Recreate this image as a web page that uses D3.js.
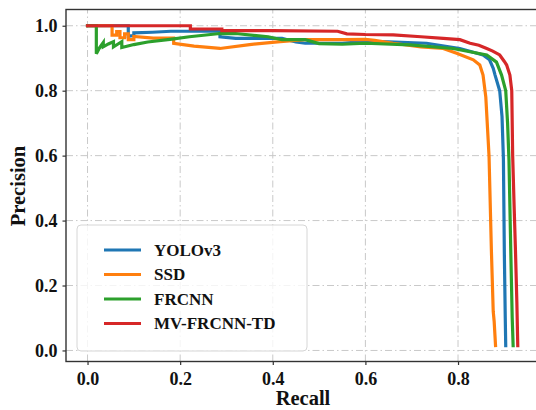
<!DOCTYPE html>
<html>
<head>
<meta charset="utf-8">
<script src="https://cdn.jsdelivr.net/npm/d3@7"></script>
<style>
  html, body { margin: 0; padding: 0; background: #fff; }
  svg { display: block; }
</style>
</head>
<body>
<svg width="536" height="410"></svg>
<script>
// precision-recall points, [recall, precision]
const yolov3 = [
  [0, 1.0], [0.088, 1.0], [0.088, 0.968], [0.1, 0.97], [0.1, 0.978], [0.14, 0.98],
  [0.18, 0.983], [0.286, 0.983], [0.286, 0.966], [0.32, 0.961], [0.42, 0.961], [0.45, 0.95],
  [0.47, 0.946], [0.55, 0.946], [0.6, 0.952], [0.65, 0.95], [0.732, 0.946], [0.804, 0.93],
  [0.854, 0.91], [0.868, 0.895], [0.876, 0.869], [0.88, 0.848], [0.89, 0.8],
  [0.895, 0.72], [0.898, 0.59], [0.9, 0.3], [0.902, 0.1], [0.903, 0.015]
];
const ssd = [
  [0, 1.0], [0.053, 1.0], [0.053, 0.971], [0.063, 0.971], [0.063, 0.982], [0.07, 0.982],
  [0.07, 0.963], [0.08, 0.963], [0.08, 0.975], [0.088, 0.975], [0.088, 0.957], [0.1, 0.957],
  [0.1, 0.967], [0.142, 0.962], [0.186, 0.962], [0.186, 0.946], [0.23, 0.937], [0.286, 0.93],
  [0.35, 0.942], [0.416, 0.951], [0.47, 0.957], [0.55, 0.957], [0.6, 0.958], [0.62, 0.955],
  [0.66, 0.946], [0.72, 0.935], [0.768, 0.93], [0.797, 0.915], [0.833, 0.895], [0.847, 0.879],
  [0.854, 0.848], [0.86, 0.78], [0.865, 0.65], [0.867, 0.597], [0.872, 0.31], [0.876, 0.12],
  [0.878, 0.09], [0.881, 0.015]
];
const frcnn = [
  [0, 1.0], [0.019, 1.0], [0.019, 0.914], [0.025, 0.93], [0.034, 0.948], [0.034, 0.935],
  [0.045, 0.944], [0.056, 0.951], [0.056, 0.935], [0.065, 0.943], [0.074, 0.951], [0.074, 0.933],
  [0.1, 0.942], [0.13, 0.95], [0.178, 0.958], [0.22, 0.966], [0.286, 0.976], [0.32, 0.976],
  [0.39, 0.966], [0.42, 0.957], [0.47, 0.957], [0.5, 0.945], [0.55, 0.943], [0.6, 0.946],
  [0.696, 0.941], [0.789, 0.93], [0.862, 0.91], [0.883, 0.888], [0.894, 0.848], [0.903, 0.8],
  [0.907, 0.7], [0.91, 0.587], [0.914, 0.3], [0.917, 0.1], [0.919, 0.015]
];
const mvFrcnnTd = [
  [0, 1.0], [0.222, 1.0], [0.222, 0.99], [0.29, 0.99], [0.29, 0.985], [0.4, 0.985],
  [0.54, 0.983], [0.56, 0.975], [0.6, 0.973], [0.66, 0.972], [0.72, 0.966], [0.768, 0.961],
  [0.804, 0.957], [0.826, 0.946], [0.845, 0.94], [0.862, 0.93], [0.875, 0.922], [0.89, 0.91],
  [0.9, 0.89], [0.905, 0.879], [0.912, 0.848], [0.916, 0.8], [0.918, 0.6], [0.921, 0.45],
  [0.924, 0.31], [0.927, 0.15], [0.929, 0.015]
];

const seriesNames = ["YOLOv3", "SSD", "FRCNN", "MV-FRCNN-TD"];
const seriesData = [yolov3, ssd, frcnn, mvFrcnnTd];
const colours = ["#1f77b4", "#ff7f0e", "#2ca02c", "#d62728"];

const xTicks = [0, 0.2, 0.4, 0.6, 0.8];
const yTicks = [0, 0.2, 0.4, 0.6, 0.8, 1.0];

const serif = "Liberation Serif";
const margin = { top: 9.5, right: -4, bottom: 48.5, left: 66 };
const width = 536, height = 410;

var svg = d3.select('svg');

var x = d3.scaleLinear()
  .domain([-0.0465, 0.977])
  .range([margin.left, width - margin.right]);
var y = d3.scaleLinear()
  .domain([-0.034, 1.05])
  .range([height - margin.bottom, margin.top]);

svg.append('clipPath').attr('id', 'plotClip')
  .append('rect')
  .attr('x', x.range()[0]).attr('y', y.range()[1])
  .attr('width', x.range()[1] - x.range()[0])
  .attr('height', y.range()[0] - y.range()[1]);

// grid
var grid = svg.append('g').attr('class', 'grid')
  .attr('stroke', '#c9c9c9').attr('stroke-width', 1)
  .attr('stroke-dasharray', '7,3,1.5,3');
grid.selectAll('.gx').data(xTicks).enter().append('line')
  .attr('x1', d => x(d)).attr('x2', d => x(d))
  .attr('y1', y.range()[0]).attr('y2', y.range()[1]);
grid.selectAll('.gy').data(yTicks).enter().append('line')
  .attr('y1', d => y(d)).attr('y2', d => y(d))
  .attr('x1', x.range()[0]).attr('x2', x.range()[1]);

// curves
var line = d3.line().x(d => x(d[0])).y(d => y(d[1]));
svg.append('g').attr('clip-path', 'url(#plotClip)')
  .selectAll('path').data(seriesData).enter().append('path')
  .attr('d', line)
  .attr('fill', 'none')
  .attr('stroke', (d, i) => colours[i])
  .attr('stroke-width', 3.2)
  .attr('stroke-linejoin', 'miter')
  .attr('stroke-linecap', 'square');

// axes
var xAxis = d3.axisBottom(x).tickValues(xTicks).tickSize(3.5).tickPadding(4)
  .tickFormat(d3.format('.1f'));
var yAxis = d3.axisLeft(y).tickValues(yTicks).tickSize(3.5).tickPadding(5)
  .tickFormat(d3.format('.1f'));

var gx = svg.append('g')
  .attr('transform', `translate(0, ${y.range()[0]})`)
  .call(xAxis);
var gy = svg.append('g')
  .attr('transform', `translate(${x.range()[0]}, 0)`)
  .call(yAxis);
[gx, gy].forEach(g => {
  g.attr('font-family', serif).attr('font-size', 18).attr('font-weight', 'bold');
  g.select('.domain').remove();
  g.selectAll('.tick line').attr('stroke', '#333').attr('stroke-width', 1.2);
  g.selectAll('.tick text').attr('fill', '#111');
});
gx.selectAll('.tick text').attr('dy', '0.9em');

// spines
svg.append('rect')
  .attr('x', x.range()[0]).attr('y', y.range()[1])
  .attr('width', x.range()[1] - x.range()[0])
  .attr('height', y.range()[0] - y.range()[1])
  .attr('fill', 'none').attr('stroke', '#333').attr('stroke-width', 1.4);

// axis titles
svg.append('text')
  .attr('x', 303).attr('y', 405)
  .attr('text-anchor', 'middle')
  .attr('font-family', serif).attr('font-weight', 'bold').attr('font-size', 20.5)
  .attr('fill', '#111')
  .text('Recall');
svg.append('text')
  .attr('transform', 'translate(25, 186) rotate(-90)')
  .attr('text-anchor', 'middle')
  .attr('font-family', serif).attr('font-weight', 'bold').attr('font-size', 20.5)
  .attr('fill', '#111')
  .text('Precision');

// legend
var legend = svg.append('g').attr('class', 'legend');
legend.append('rect')
  .attr('x', 77).attr('y', 225).attr('width', 230).attr('height', 126)
  .attr('rx', 4)
  .attr('fill', 'rgba(255,255,255,0.8)')
  .attr('stroke', '#d6d6d6').attr('stroke-width', 1);
var rows = legend.selectAll('.row').data(seriesNames).enter().append('g')
  .attr('transform', (d, i) => `translate(0, ${250 + i * 24.5})`);
rows.append('line')
  .attr('x1', 104).attr('x2', 141)
  .attr('stroke', (d, i) => colours[i]).attr('stroke-width', 3.2);
rows.append('text')
  .attr('x', 154).attr('dy', '0.35em')
  .attr('font-family', serif).attr('font-weight', 'bold').attr('font-size', 17)
  .attr('fill', '#111')
  .text(d => d);
</script>
</body>
</html>
